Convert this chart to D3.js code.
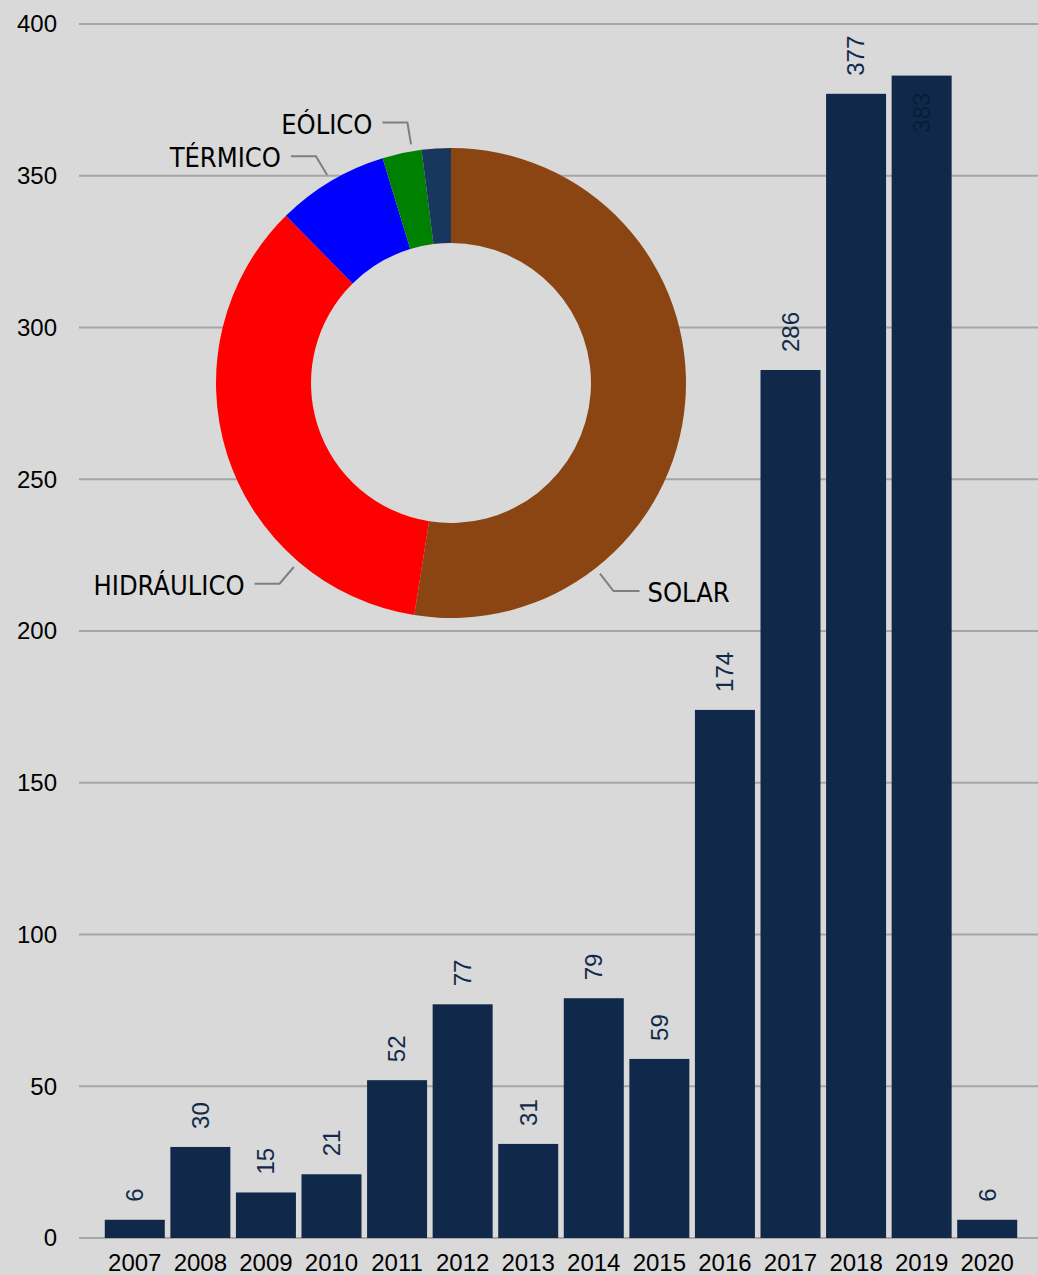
<!DOCTYPE html>
<html>
<head>
<meta charset="utf-8">
<script src="https://cdn.jsdelivr.net/npm/d3@7"></script>
<style>
  html, body { margin: 0; padding: 0; background: #d9d9d9; }
  svg { display: block; }
</style>
</head>
<body>
<svg id="chart" width="1038" height="1275"></svg>
<script>
// bar data
const years = ["2007", "2008", "2009", "2010", "2011", "2012", "2013", "2014", "2015", "2016", "2017", "2018", "2019", "2020"];
const projects = [6, 30, 15, 21, 52, 77, 31, 79, 59, 174, 286, 377, 383, 6];
const yTicks = [0, 50, 100, 150, 200, 250, 300, 350, 400];

// donut data (share by technology, %)
const tipos = ["SOLAR", "HIDRÁULICO", "TÉRMICO", "EÓLICO", ""];
const participacion = [52.5, 35.1, 7.7, 2.7, 2.0];
const tipoColors = ["#8b4513", "#ff0000", "#0000ff", "#008000", "#17375e"];

const width = 1038, height = 1275;
const bg = "#d9d9d9";
const barColor = "#10294a";

const svg = d3.select("#chart");

svg.append("rect")
  .attr("width", width)
  .attr("height", height)
  .attr("fill", bg);

const x = d3.scaleBand()
  .domain(years)
  .range([102, 1020])
  .paddingInner(0.085)
  .paddingOuter(0.0425);

const y = d3.scaleLinear()
  .domain([0, 400])
  .range([1238, 24]);

// gridlines + y labels
const grid = svg.append("g");
grid.selectAll("line")
  .data(yTicks)
  .join("line")
  .attr("x1", 79)
  .attr("x2", width)
  .attr("y1", d => y(d))
  .attr("y2", d => y(d))
  .attr("stroke", "#a6a6a6")
  .attr("stroke-width", 2);

grid.selectAll("text")
  .data(yTicks)
  .join("text")
  .attr("x", 57)
  .attr("y", d => y(d))
  .attr("dy", "0.35em")
  .attr("text-anchor", "end")
  .attr("font-family", "'Liberation Sans', Arial, sans-serif")
  .attr("font-size", "24px")
  .attr("fill", "#000")
  .text(d => d);

// bars
const rows = years.map((yr, i) => ({ year: yr, value: projects[i] }));

svg.append("g")
  .selectAll("rect")
  .data(rows)
  .join("rect")
  .attr("x", d => x(d.year))
  .attr("y", d => y(d.value))
  .attr("width", x.bandwidth())
  .attr("height", d => y(0) - y(d.value))
  .attr("fill", barColor);

// x labels
svg.append("g")
  .selectAll("text")
  .data(years)
  .join("text")
  .attr("x", d => x(d) + x.bandwidth() / 2)
  .attr("y", 1271)
  .attr("text-anchor", "middle")
  .attr("font-family", "'Liberation Sans', Arial, sans-serif")
  .attr("font-size", "24px")
  .attr("fill", "#000")
  .text(d => d);

// value labels, rotated; inside the bar when no room above the plot top
const fitsAbove = v => y(v) - 18 - 45 >= y(400);

svg.append("g")
  .selectAll("text")
  .data(rows)
  .join("text")
  .attr("transform", d => {
    const cx = x(d.year) + x.bandwidth() / 2;
    const top = y(d.value);
    const ty = fitsAbove(d.value) ? top - 18 : top + 17;
    return `translate(${cx},${ty}) rotate(-90)`;
  })
  .attr("text-anchor", d => (fitsAbove(d.value) ? "start" : "end"))
  .attr("dy", "0.35em")
  .attr("font-family", "'Liberation Sans', Arial, sans-serif")
  .attr("font-size", "24px")
  .attr("fill", d => (fitsAbove(d.value) ? "#112a4a" : "#0a1d36"))
  .text(d => d.value);

// donut
const cx = 451, cy = 383, R = 235, r = 140;
const pie = d3.pie().sort(null).value(d => d.v);
const slices = pie(tipos.map((t, i) => ({ name: t, v: participacion[i], color: tipoColors[i] })));
const arc = d3.arc().innerRadius(r).outerRadius(R);

const donut = svg.append("g").attr("transform", `translate(${cx},${cy})`);

donut.append("circle")
  .attr("r", r)
  .attr("fill", bg);

donut.selectAll("path")
  .data(slices)
  .join("path")
  .attr("d", arc)
  .attr("fill", d => d.data.color);

// leader lines + labels (Excel style placement)
const labelAngle = { "SOLAR": 142, "HIDRÁULICO": 220.5, "EÓLICO": 350.5 };
const labelled = slices.filter(d => d.data.name !== "");

labelled.forEach(d => {
  const deg = labelAngle[d.data.name] ?? ((d.startAngle + d.endAngle) / 2) * 180 / Math.PI;
  const a = deg * Math.PI / 180;
  const sx = Math.sin(a), sy = -Math.cos(a);
  const p0 = [sx * (R + 7), sy * (R + 7)];
  const p1 = [sx * (R + 29), sy * (R + 29)];
  const right = sx > 0;
  const p2 = [p1[0] + (right ? 26 : -25), p1[1]];

  donut.append("polyline")
    .attr("points", [p0, p1, p2].map(p => p.join(",")).join(" "))
    .attr("fill", "none")
    .attr("stroke", "#7f7f7f")
    .attr("stroke-width", 2);

  donut.append("text")
    .attr("x", p2[0] + (right ? 8 : -10))
    .attr("y", p2[1] + 11)
    .attr("text-anchor", right ? "start" : "end")
    .attr("font-family", "'DejaVu Sans Condensed', 'DejaVu Sans', sans-serif")
    .attr("font-stretch", "condensed")
    .attr("font-size", "27px")
    .attr("fill", "#000")
    .text(d.data.name);
});
</script>
</body>
</html>
